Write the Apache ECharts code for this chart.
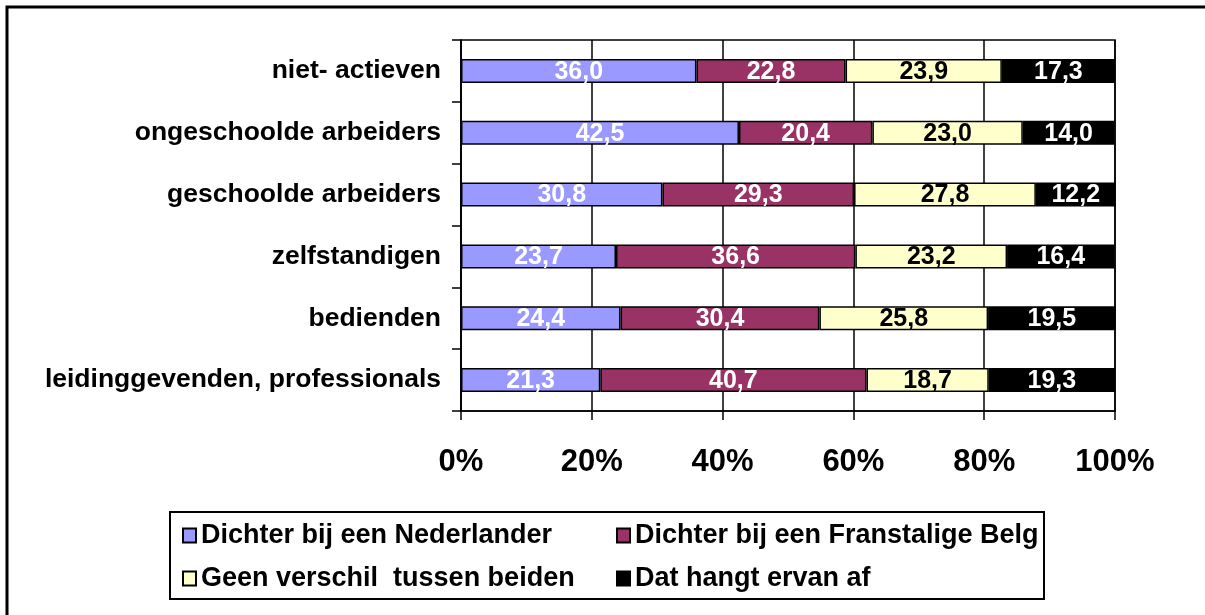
<!DOCTYPE html>
<html>
<head>
<meta charset="utf-8">
<script src="https://cdn.jsdelivr.net/npm/echarts@6/dist/echarts.min.js"></script>
<style>
  html, body { margin: 0; padding: 0; background: #fff; }
  #chart { width: 1205px; height: 615px; }
</style>
</head>
<body>
<div id="chart"></div>
<script>
// categories top to bottom
const categories = ['niet- actieven', 'ongeschoolde arbeiders', 'geschoolde arbeiders', 'zelfstandigen', 'bedienden', 'leidinggevenden, professionals'];
const seriesNames = ['Dichter bij een Nederlander', 'Dichter bij een Franstalige Belg', 'Geen verschil  tussen beiden', 'Dat hangt ervan af'];
const nederlander = [36.0, 42.5, 30.8, 23.7, 24.4, 21.3];
const franstalig = [22.8, 20.4, 29.3, 36.6, 30.4, 40.7];
const geenVerschil = [23.9, 23.0, 27.8, 23.2, 25.8, 18.7];
const hangtAf = [17.3, 14.0, 12.2, 16.4, 19.5, 19.3];
const xTicks = [0, 20, 40, 60, 80, 100];

const colors = ['#9999FF', '#993366', '#FFFFCC', '#000000'];
const labelColors = ['#fff', '#fff', '#000', '#fff'];
const font = '"Liberation Sans", Arial, sans-serif';

const chart = echarts.init(document.getElementById('chart'));

const values = [nederlander, franstalig, geenVerschil, hangtAf];
const series = values.map(function (data, i) {
  return {
    name: seriesNames[i],
    type: 'bar',
    stack: 'total',
    barWidth: 24,
    data: data,
    itemStyle: { color: colors[i], borderColor: '#000', borderWidth: 1.5 },
    label: {
      show: true,
      position: 'inside',
      offset: [0, 1],
      color: labelColors[i],
      fontFamily: font,
      fontWeight: 'bold',
      fontSize: 25,
      formatter: function (p) { return p.value.toFixed(1).replace('.', ','); }
    }
  };
});

const legendText = { fontFamily: font, fontWeight: 'bold', fontSize: 27, color: '#000', lineHeight: 26 };

const option = {
  animation: false,
  grid: {
    left: 461, right: 90, top: 40, bottom: 204,
    show: true, borderColor: '#000', borderWidth: 1.5
  },
  xAxis: {
    type: 'value',
    min: xTicks[0],
    max: xTicks[xTicks.length - 1],
    interval: 20,
    axisLine: { show: true, lineStyle: { color: '#000', width: 1.5 } },
    axisTick: { show: true, length: 9, lineStyle: { color: '#000', width: 1.5 } },
    splitLine: { show: true, lineStyle: { color: '#000', width: 1.5 } },
    axisLabel: {
      formatter: '{value}%',
      margin: 36,
      color: '#000',
      fontFamily: font,
      fontWeight: 'bold',
      fontSize: 31
    }
  },
  yAxis: {
    type: 'category',
    inverse: true,
    data: categories,
    axisLine: { show: true, lineStyle: { color: '#000', width: 1.5 } },
    axisTick: { show: true, length: 9, lineStyle: { color: '#000', width: 1.5 } },
    axisLabel: {
      margin: 20,
      color: '#000',
      fontFamily: font,
      fontWeight: 'bold',
      fontSize: 26.5
    }
  },
  legend: [
    {
      orient: 'vertical', left: 182, top: 522, padding: 0,
      icon: 'rect', itemWidth: 13, itemHeight: 14, itemGap: 16,
      data: [seriesNames[0], seriesNames[2]],
      textStyle: legendText
    },
    {
      orient: 'vertical', left: 616, top: 522, padding: 0,
      icon: 'rect', itemWidth: 13, itemHeight: 14, itemGap: 16,
      data: [seriesNames[1], seriesNames[3]],
      textStyle: legendText
    }
  ],
  graphic: [
    {
      type: 'rect',
      shape: { x: 7, y: 7, width: 1400, height: 800 },
      style: { fill: 'none', stroke: '#000', lineWidth: 3 },
      silent: true
    },
    {
      type: 'rect',
      shape: { x: 170, y: 512, width: 874, height: 87 },
      style: { fill: 'none', stroke: '#000', lineWidth: 2 },
      silent: true
    }
  ],
  series: series
};

chart.setOption(option);
window.addEventListener('resize', function () {
  chart.resize();
});
</script>
</body>
</html>
